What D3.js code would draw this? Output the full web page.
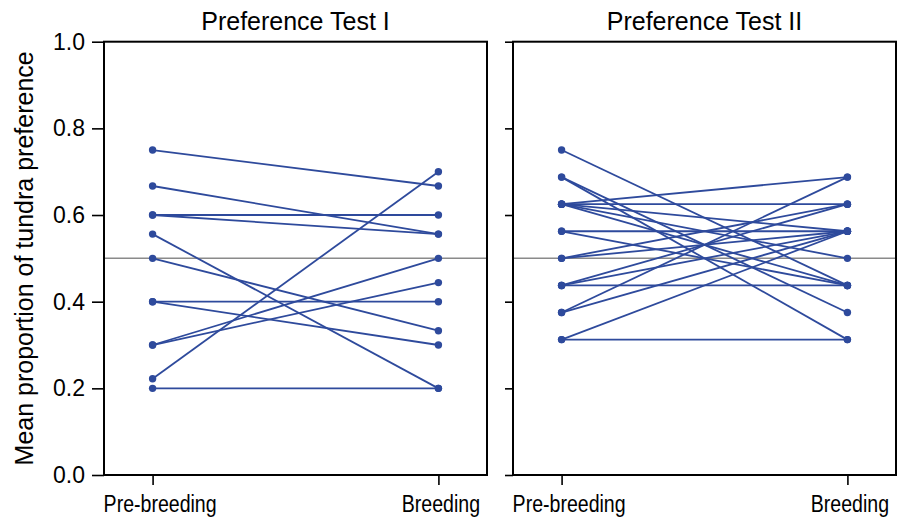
<!DOCTYPE html>
<html>
<head>
<meta charset="utf-8">
<script src="https://cdn.jsdelivr.net/npm/d3@7"></script>
<style>
  body { margin: 0; background: #fff; }
  svg { display: block; }
  .tick text { font-family: "Liberation Sans", Arial, sans-serif; }
</style>
</head>
<body>
<svg width="900" height="519"></svg>
<script>
// data
var categories = ["Pre-breeding", "Breeding"];
var panelTitles = ["Preference Test I", "Preference Test II"];
var yTicks = [0, 0.2, 0.4, 0.6, 0.8, 1.0];
var refLine = 0.5;

// Preference Test I, one entry per bird
var test1Pre   = [0.75, 0.667, 0.6, 0.6, 0.556, 0.5, 0.4, 0.4, 0.3, 0.3, 0.222, 0.2];
var test1Breed = [0.667, 0.556, 0.6, 0.556, 0.2, 0.333, 0.4, 0.3, 0.5, 0.444, 0.7, 0.2];

// Preference Test II
var test2Pre   = [0.75, 0.6875, 0.6875, 0.625, 0.625, 0.625, 0.625, 0.625, 0.5625, 0.5625,
                  0.5, 0.5, 0.4375, 0.4375, 0.4375, 0.375, 0.375, 0.3125, 0.3125];
var test2Breed = [0.4375, 0.375, 0.3125, 0.6875, 0.625, 0.5625, 0.5, 0.4375, 0.5625, 0.4375,
                  0.625, 0.5625, 0.4375, 0.625, 0.5625, 0.6875, 0.5625, 0.3125, 0.5625];

var svg = d3.select("svg"),
    plotTop = 41.7, plotBottom = 475,
    panels = [
      {left: 104, right: 487, pre: test1Pre, breed: test1Breed, labels: true},
      {left: 513, right: 896, pre: test2Pre, breed: test2Breed, labels: false}
    ],
    blue = "#2e4a9c";

var y = d3.scaleLinear().domain([0, 1]).range([plotBottom, plotTop]);

panels.forEach(function(p, i) {
  var x = d3.scalePoint().domain(categories).range([p.left, p.right]).padding(0.17);
  var g = svg.append("g");

  // reference line at 0.5
  g.append("line")
    .attr("x1", p.left).attr("x2", p.right)
    .attr("y1", y(refLine)).attr("y2", y(refLine))
    .attr("stroke", "#8a8a8a").attr("stroke-width", 1.5);

  var pairs = p.pre.map(function(v, k) { return [v, p.breed[k]]; });

  g.selectAll(".pair")
    .data(pairs)
    .enter().append("line")
    .attr("class", "pair")
    .attr("x1", x(categories[0])).attr("x2", x(categories[1]))
    .attr("y1", function(d) { return y(d[0]); })
    .attr("y2", function(d) { return y(d[1]); })
    .attr("stroke", blue).attr("stroke-width", 1.8);

  var dots = [];
  pairs.forEach(function(d) { dots.push([categories[0], d[0]], [categories[1], d[1]]); });
  g.selectAll(".dot")
    .data(dots)
    .enter().append("circle")
    .attr("cx", function(d) { return x(d[0]); })
    .attr("cy", function(d) { return y(d[1]); })
    .attr("r", 3.7)
    .attr("fill", blue);

  // frame
  g.append("rect")
    .attr("x", p.left).attr("y", plotTop)
    .attr("width", p.right - p.left).attr("height", plotBottom - plotTop)
    .attr("fill", "none").attr("stroke", "#000").attr("stroke-width", 2);

  // y axis
  var ya = g.append("g")
    .attr("transform", "translate(" + p.left + ",0)")
    .call(d3.axisLeft(y).tickValues(yTicks)
      .tickFormat(p.labels ? d3.format(".1f") : "")
      .tickSize(p.labels ? 12 : 8).tickPadding(7));
  ya.select(".domain").remove();
  ya.selectAll(".tick line").attr("stroke-width", 1.6);
  ya.selectAll(".tick text").attr("font-size", 23).attr("fill", "#000");

  // x axis, labels squeezed like the original
  var xa = g.append("g")
    .attr("transform", "translate(0," + plotBottom + ")")
    .call(d3.axisBottom(x).tickSize(10).tickPadding(6));
  xa.select(".domain").remove();
  xa.selectAll(".tick line").attr("stroke-width", 1.6);
  xa.selectAll(".tick text")
    .attr("font-size", 23)
    .attr("fill", "#000")
    .attr("transform", function(d, k) { return "translate(" + (k === 0 ? 7 : 2) + ",2) scale(0.85,1.08)"; });

  // title
  svg.append("text")
    .attr("x", (p.left + p.right) / 2)
    .attr("y", 30)
    .attr("text-anchor", "middle")
    .attr("font-family", "Liberation Sans, Arial, sans-serif")
    .attr("font-size", 25)
    .text(panelTitles[i]);
});

svg.append("text")
  .attr("transform", "translate(33," + y(0.5) + ") rotate(-90)")
  .attr("text-anchor", "middle")
  .attr("font-family", "Liberation Sans, Arial, sans-serif")
  .attr("font-size", 25)
  .text("Mean proportion of tundra preference");
</script>
</body>
</html>
